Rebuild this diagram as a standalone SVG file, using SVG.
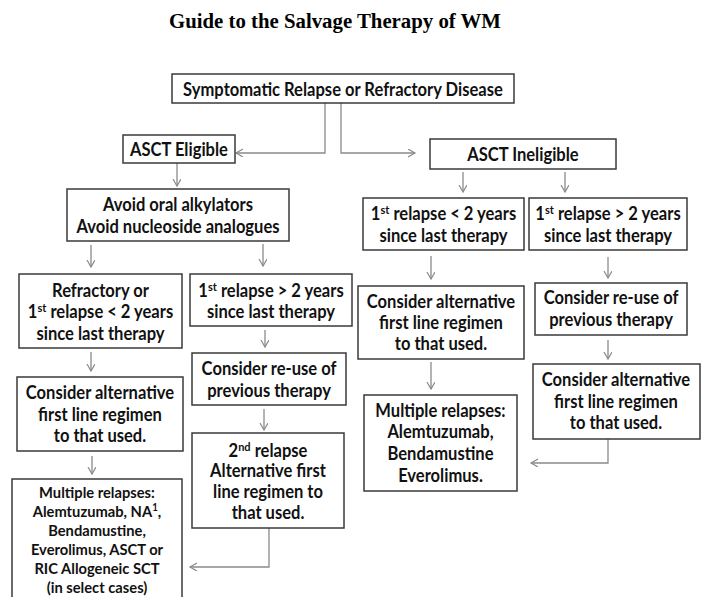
<svg xmlns="http://www.w3.org/2000/svg" width="707" height="597" viewBox="0 0 707 597">
<style>
.bg{fill:#fff}
.box{fill:#fff;stroke:#3a3a3a;stroke-width:1.5}
.t{font-family:Lato,"Open Sans","Liberation Sans",sans-serif;font-weight:700;font-size:18px;fill:#111;text-anchor:middle;transform-box:fill-box;transform-origin:center;transform:scaleX(0.92)}
.s{font-size:16px;transform:scaleX(0.92)}
.title{font-family:"Liberation Serif","Times New Roman",serif;font-weight:700;font-size:20.8px;fill:#000;text-anchor:middle}
.c{fill:none;stroke:#8a8a8a;stroke-width:1.3;marker-end:url(#ah)}
</style>
<defs>
<marker id="ah" markerUnits="userSpaceOnUse" markerWidth="10" markerHeight="10" refX="7" refY="4" orient="auto">
<path d="M0,0 L7,4 L0,8" fill="none" stroke="#8a8a8a" stroke-width="1.2"/>
</marker>
</defs>
<rect class="bg" width="707" height="597"/>
<text class="title" x="335" y="28">Guide to the Salvage Therapy of WM</text>

<g id="connectors">
<path class="c" d="M325,103 V153 H236"/>
<path class="c" d="M341,103 V153 H415"/>
<path class="c" d="M177,163 V186"/>
<path class="c" d="M463,172 V192"/>
<path class="c" d="M565,172 V192"/>
<path class="c" d="M91,245 V267"/>
<path class="c" d="M263,244 V266"/>
<path class="c" d="M91,352 V371"/>
<path class="c" d="M265,330 V347"/>
<path class="c" d="M264,409 V430"/>
<path class="c" d="M92,456 V474"/>
<path class="c" d="M269,528 V567 H190"/>
<path class="c" d="M431,256 V279"/>
<path class="c" d="M431,362 V389"/>
<path class="c" d="M608,257 V278"/>
<path class="c" d="M608,340 V359"/>
<path class="c" d="M608,439 V463 H531"/>
</g>

<g id="n1"><rect class="box" x="172" y="74" width="342" height="29"/>
<text class="t" x="343" y="96">Symptomatic Relapse or Refractory Disease</text></g>

<g id="n2"><rect class="box" x="123" y="135" width="112" height="28"/>
<text class="t" x="179" y="156">ASCT Eligible</text></g>

<g id="n3"><rect class="box" x="430" y="139" width="186" height="30"/>
<text class="t" x="523" y="161">ASCT Ineligible</text></g>

<g id="n4"><rect class="box" x="67" y="189" width="222" height="52"/>
<text class="t" x="178" y="211">Avoid oral alkylators</text>
<text class="t" x="178" y="233">Avoid nucleoside analogues</text></g>

<g id="n5"><rect class="box" x="19" y="274" width="163" height="74"/>
<text class="t" x="100.5" y="297">Refractory or</text>
<text class="t" x="100.5" y="318">1<tspan font-size="12" dy="-6">st</tspan><tspan dy="6"> relapse &lt; 2 years</tspan></text>
<text class="t" x="100.5" y="340">since last therapy</text></g>

<g id="n6"><rect class="box" x="190" y="274" width="162" height="52"/>
<text class="t" x="271" y="297">1<tspan font-size="12" dy="-6">st</tspan><tspan dy="6"> relapse &gt; 2 years</tspan></text>
<text class="t" x="271" y="318">since last therapy</text></g>

<g id="n7"><rect class="box" x="363" y="198" width="161" height="52"/>
<text class="t" x="443.5" y="220">1<tspan font-size="12" dy="-6">st</tspan><tspan dy="6"> relapse &lt; 2 years</tspan></text>
<text class="t" x="443.5" y="242">since last therapy</text></g>

<g id="n8"><rect class="box" x="529" y="198" width="158" height="52"/>
<text class="t" x="608" y="220">1<tspan font-size="12" dy="-6">st</tspan><tspan dy="6"> relapse &gt; 2 years</tspan></text>
<text class="t" x="608" y="242">since last therapy</text></g>

<g id="n9"><rect class="box" x="17" y="377" width="166" height="74"/>
<text class="t" x="100" y="399">Consider alternative</text>
<text class="t" x="100" y="421">first line regimen</text>
<text class="t" x="100" y="442">to that used.</text></g>

<g id="n10"><rect class="box" x="192" y="353" width="154" height="52"/>
<text class="t" x="269" y="375">Consider re-use of</text>
<text class="t" x="269" y="397">previous therapy</text></g>

<g id="n11"><rect class="box" x="192" y="433" width="152" height="95"/>
<text class="t" x="268" y="457">2<tspan font-size="12" dy="-6">nd</tspan><tspan dy="6"> relapse</tspan></text>
<text class="t" x="268" y="477">Alternative first</text>
<text class="t" x="268" y="498">line regimen to</text>
<text class="t" x="268" y="519">that used.</text></g>

<g id="n12"><rect class="box" x="12" y="479" width="170" height="130"/>
<text class="t s" x="97" y="498">Multiple relapses:</text>
<text class="t s" x="97" y="517">Alemtuzumab, NA<tspan font-size="10.5" dy="-6">1</tspan><tspan dy="6">,</tspan></text>
<text class="t s" x="97" y="536">Bendamustine,</text>
<text class="t s" x="97" y="555">Everolimus, ASCT or</text>
<text class="t s" x="97" y="574">RIC Allogeneic SCT</text>
<text class="t s" x="97" y="593">(in select cases)</text></g>

<g id="n13"><rect class="box" x="358" y="286" width="166" height="73"/>
<text class="t" x="441" y="308">Consider alternative</text>
<text class="t" x="441" y="329">first line regimen</text>
<text class="t" x="441" y="350">to that used.</text></g>

<g id="n14"><rect class="box" x="364" y="395" width="153" height="96"/>
<text class="t" x="440.5" y="417">Multiple relapses:</text>
<text class="t" x="440.5" y="438">Alemtuzumab,</text>
<text class="t" x="440.5" y="460">Bendamustine</text>
<text class="t" x="440.5" y="482">Everolimus.</text></g>

<g id="n15"><rect class="box" x="535" y="283" width="152" height="52"/>
<text class="t" x="611" y="304">Consider re-use of</text>
<text class="t" x="611" y="326">previous therapy</text></g>

<g id="n16"><rect class="box" x="533" y="364" width="167" height="75"/>
<text class="t" x="616" y="386">Consider alternative</text>
<text class="t" x="616" y="408">first line regimen</text>
<text class="t" x="616" y="429">to that used.</text></g>
</svg>
